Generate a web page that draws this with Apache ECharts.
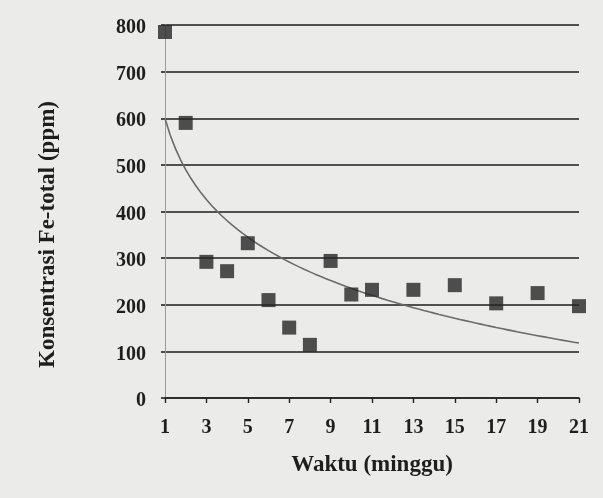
<!DOCTYPE html>
<html>
<head>
<meta charset="utf-8">
<script src="https://cdn.jsdelivr.net/npm/echarts@6/dist/echarts.min.js"></script>
<style>
html,body{margin:0;padding:0;background:#ebebe9;}
#c{width:603px;height:498px;}
</style>
</head>
<body>
<div id="c"></div>
<script>
// Data
var weeks = [1, 2, 3, 4, 5, 6, 7, 8, 9, 10, 11, 13, 15, 17, 19, 21];
var feTotal = [785, 590, 292, 272, 332, 210, 151, 114, 294, 222, 232, 232, 242, 203, 225, 197];
var xTicks = [1, 3, 5, 7, 9, 11, 13, 15, 17, 19, 21];
var yTicks = [0, 100, 200, 300, 400, 500, 600, 700, 800];

// Logarithmic least-squares trendline fitted to the data (as in the reference)
function logFit(xs, ys) {
  var n = xs.length, sx = 0, sy = 0, sxx = 0, sxy = 0;
  for (var i = 0; i < n; i++) {
    var l = Math.log(xs[i]);
    sx += l; sy += ys[i]; sxx += l * l; sxy += l * ys[i];
  }
  var b = (n * sxy - sx * sy) / (n * sxx - sx * sx);
  var a = (sy - b * sx) / n;
  return {a: a, b: b};
}
var fit = logFit(weeks, feTotal);
var trend = [];
for (var t = weeks[0]; t <= weeks[weeks.length - 1] + 1e-9; t += 0.25) {
  trend.push([t, fit.a + fit.b * Math.log(t)]);
}

var font = '"Liberation Serif", "DejaVu Serif", serif';
var chart = echarts.init(document.getElementById('c'));
chart.setOption({
  backgroundColor: '#ebebe9',
  animation: false,
  grid: {left: 165, right: 24, top: 25, bottom: 100},
  xAxis: {
    type: 'value',
    min: xTicks[0], max: xTicks[xTicks.length - 1], interval: 2,
    name: 'Waktu (minggu)',
    nameLocation: 'middle',
    nameGap: 56,
    nameTextStyle: {fontFamily: font, fontWeight: 'bold', fontSize: 23, color: '#1e1e1e'},
    axisLine: {show: true, lineStyle: {color: '#222', width: 1.6}},
    axisTick: {show: true, length: 5, inside: false, lineStyle: {color: '#222', width: 1.4}},
    axisLabel: {fontFamily: font, fontWeight: 'bold', fontSize: 20, color: '#1e1e1e', margin: 20},
    splitLine: {show: false}
  },
  yAxis: {
    type: 'value',
    min: yTicks[0], max: yTicks[yTicks.length - 1], interval: 100,
    name: 'Konsentrasi Fe-total (ppm)',
    nameLocation: 'middle',
    nameGap: 105,
    nameTextStyle: {fontFamily: font, fontWeight: 'bold', fontSize: 23, color: '#1e1e1e', padding: [0, 46, 0, 0]},
    axisLine: {show: true, lineStyle: {color: '#9a9a9a', width: 1}},
    axisTick: {show: true, length: 4, lineStyle: {color: '#222', width: 1.6}},
    axisLabel: {
      margin: 19,
      formatter: '{v|{value}}',
      rich: {v: {fontFamily: font, fontWeight: 'bold', fontSize: 20, color: '#1e1e1e', padding: [6, 0, 0, 0]}}
    },
    splitLine: {show: true, lineStyle: {color: '#1c1c1c', width: 1.6}}
  },
  series: [
    {
      type: 'line',
      data: trend,
      showSymbol: false,
      smooth: false,
      lineStyle: {color: '#6a6a6a', width: 1.6},
      z: 2
    },
    {
      type: 'scatter',
      data: weeks.map(function (w, i) { return [w, feTotal[i]]; }),
      symbol: 'rect',
      symbolSize: 14,
      itemStyle: {color: '#262626'},
      z: 3
    }
  ]
});
</script>
</body>
</html>
